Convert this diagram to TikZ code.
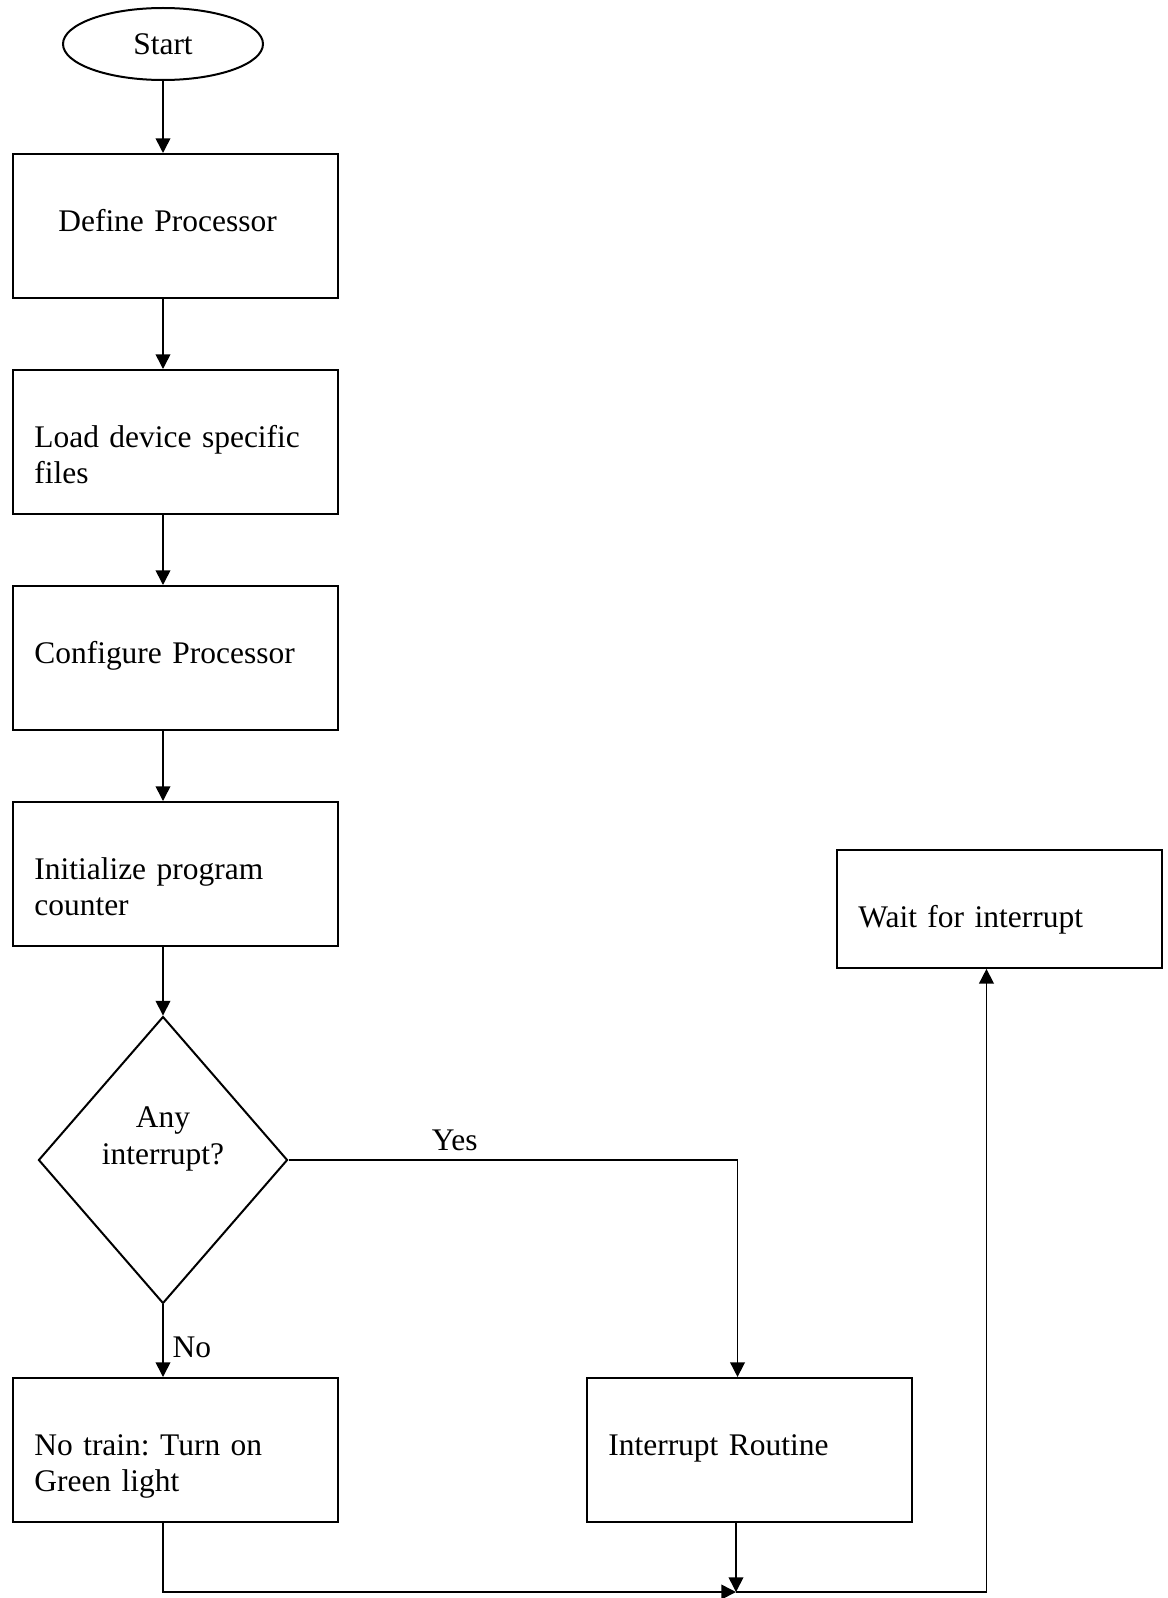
\documentclass[tikz,border=0pt]{standalone}
\usepackage{fontspec}
\setmainfont{Liberation Serif}
\usepackage{tikz}
\usetikzlibrary{positioning, arrows.meta, calc, shapes.geometric}

\frenchspacing
\tikzset{
  procbox/.style={draw, line width=0.75pt, anchor=north west, text width=105.9pt,
    align=left, inner xsep=8pt, inner ysep=0pt, text height=28.9pt, text depth=25.1pt},
  waitbox/.style={procbox, text depth=15.3pt},
  decbox/.style={draw, diamond, line width=0.75pt, minimum width=93.4pt, minimum height=107.6pt,
    inner sep=0pt, align=center, text height=20pt, text depth=17pt},
  flow/.style={line width=0.6pt, -{Triangle[length=5.5pt, width=5.5pt]}},
}

\begin{document}
\begin{tikzpicture}[x=0.375pt, y=-0.375pt, font=\fontsize{11.8}{13.8}\selectfont]
  \useasboundingbox (0,0) rectangle (1167,1598);

  \node[draw, ellipse, line width=0.75pt, minimum width=75pt, minimum height=27pt, inner sep=0pt] (start) at (163,44) {Start};
  \node[procbox] (defp) at (12,153) {\hspace*{9pt}Define Processor};
  \node[procbox] (load) at (12,369) {Load device specific\\files};
  \node[procbox] (conf) at (12,585) {Configure Processor};
  \node[procbox] (init) at (12,801) {Initialize program\\counter};
  \node[decbox] (dec) at (163,1160) {Any\\interrupt?};
  \node[procbox] (green) at (12,1377) {No train: Turn on\\Green light};
  \node[procbox] (intr) at (586,1377) {Interrupt Routine};
  \node[waitbox] (wait) at (836,849) {Wait for interrupt};
  \coordinate (merge) at (736,1592);

  \draw[flow] (start) -- (start |- defp.north);
  \draw[flow] (defp.south -| start) -- (start |- load.north);
  \draw[flow] (load.south -| start) -- (start |- conf.north);
  \draw[flow] (conf.south -| start) -- (start |- init.north);
  \draw[flow] (init.south -| start) -- (dec);
  \draw[flow] (dec.east) -| node[pos=0.185, above] (yes) {Yes} ([xshift=-4.5pt]intr.north);
  \draw[flow] (dec.south) -- node[pos=0.59, right] (no) {No} (dec |- green.north);
  \draw[flow] (green.south -| dec) |- (merge);
  \draw[flow] (intr.south -| merge) -- (merge);
  \draw[flow] (merge) -| ([xshift=-4.9pt]wait.south);
\end{tikzpicture}
\end{document}
